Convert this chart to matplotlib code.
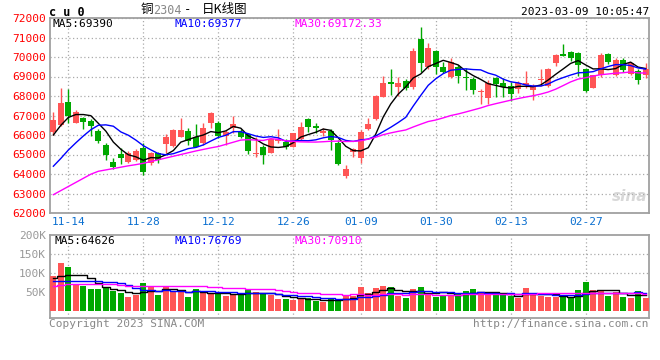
import matplotlib
matplotlib.use("Agg")
import matplotlib.pyplot as plt
import numpy as np
import pandas as pd

# trading days shown on the chart (2022-11-10 .. 2023-03-09)
dates = ["11-10", "11-11", "11-14", "11-15", "11-16", "11-17", "11-18", "11-21", "11-22", "11-23",
         "11-24", "11-25", "11-28", "11-29", "11-30", "12-01", "12-02", "12-05", "12-06", "12-07",
         "12-08", "12-09", "12-12", "12-13", "12-14", "12-15", "12-16", "12-19", "12-20", "12-21",
         "12-22", "12-23", "12-26", "12-27", "12-28", "12-29", "12-30", "01-03", "01-04", "01-05",
         "01-06", "01-09", "01-10", "01-11", "01-12", "01-13", "01-16", "01-17", "01-18", "01-19",
         "01-20", "01-30", "01-31", "02-01", "02-02", "02-03", "02-06", "02-07", "02-08", "02-09",
         "02-10", "02-13", "02-14", "02-15", "02-16", "02-17", "02-20", "02-21", "02-22", "02-23",
         "02-24", "02-27", "02-28", "03-01", "03-02", "03-03", "03-06", "03-07", "03-08", "03-09"]
label_dates = ["11-14", "11-28", "12-12", "12-26", "01-09", "01-30", "02-13", "02-27"]

opens = [66169, 66513, 67692, 66631, 66887, 66718, 66221, 65503, 64631, 65026,
         64631, 64718, 65318, 64580, 65062, 65538, 65451, 65913, 66205, 65882,
         65574, 66631, 66600, 65964, 66344, 66169, 66051, 65009, 65369, 65092,
         65700, 65656, 65400, 65779, 66821, 66477, 66087, 66205, 65605, 63897,
         65113, 64805, 66308, 66821, 67964, 68718, 68477, 68769, 68446, 70923,
         69472, 70308, 69508, 69000, 69508, 68974, 68872, 68190, 67913, 68938,
         68682, 68513, 68344, 68564, 68308, 68821, 68513, 69713, 70154, 70241,
         70190, 69369, 68426, 69062, 70154, 69077, 69846, 69128, 69297, 69077]
closes = [66769, 67656, 66974, 67179, 66667, 66477, 65692, 64974, 64374, 64821,
          65062, 65179, 64087, 65062, 64718, 65882, 66256, 66256, 65708, 65400,
          66374, 67144, 65964, 66169, 66549, 65913, 65179, 65092, 64974, 65779,
          65780, 65400, 66087, 66426, 66426, 66374, 66221, 65744, 64513, 64256,
          65267, 66138, 66564, 68000, 68651, 68600, 68667, 68395, 70308, 69677,
          70477, 69472, 69215, 69759, 69041, 68908, 68308, 68241, 68651, 68615,
          68446, 68103, 68651, 68682, 68513, 68872, 69385, 70103, 70067, 69933,
          69590, 68272, 69077, 70103, 69728, 69846, 69333, 69677, 68821, 69369]
highs = [67179, 68426, 68359, 67282, 66939, 66800, 66292, 65605, 64805, 65349,
         65179, 65282, 65605, 65144, 65144, 66051, 66292, 66887, 66344, 66564,
         66600, 67195, 66733, 66256, 66974, 66292, 66118, 65913, 65487, 65831,
         66292, 65779, 66118, 66651, 66856, 66600, 66344, 66292, 65744, 64462,
         65349, 66256, 66856, 68051, 69026, 69385, 68959, 68872, 70477, 71554,
         70703, 70359, 69759, 69964, 69590, 69420, 68990, 68359, 68805, 68990,
         68908, 68733, 68769, 69297, 68615, 69369, 69420, 70154, 70667, 70323,
         70272, 69420, 69077, 70190, 70221, 69933, 69933, 69708, 69369, 69708]
lows = [66000, 66462, 66631, 66600, 66308, 65964, 65605, 64718, 64256, 64513,
        64549, 64667, 63949, 64462, 64549, 65062, 65410, 65913, 65487, 65369,
        65487, 66344, 65831, 65487, 66118, 65831, 65026, 64887, 64513, 65062,
        65605, 65267, 65369, 65744, 66169, 66087, 65949, 65231, 64462, 63779,
        64887, 64580, 66256, 66769, 67933, 68051, 68015, 68308, 68359, 69246,
        69385, 69113, 69164, 68918, 68651, 68308, 68087, 67574, 67574, 67964,
        67964, 67744, 68138, 68395, 67795, 68513, 68477, 69564, 70067, 69810,
        69041, 68221, 68400, 68974, 69626, 69041, 69246, 69077, 68615, 68908]

# volume in thousands of lots
volumes = [93.5, 125.8, 116, 70, 65.5, 58.5, 58.5, 60, 53, 47,
           36.7, 43.7, 73.4, 64.6, 42, 64.6, 49.8, 56.8, 36.7, 57.7,
           47, 45.4, 49.8, 41, 45.4, 42.8, 55, 49.8, 47, 42,
           31.4, 31.4, 28.8, 33.2, 35, 26.2, 24.5, 34, 33.2, 41,
           41, 63, 47, 60, 65.5, 63, 41, 34, 57.7, 63,
           47, 36.7, 43.7, 42, 47, 52.4, 57.7, 49.8, 44.6, 42.8,
           42.8, 41, 34, 60, 47, 41, 36.7, 36.7, 38.5, 36.7,
           55, 76, 55, 55, 40, 49.8, 36.7, 34, 52.4, 34]

# moving-average values before enough days are on screen
ma5_head = [66000, 66500, 66900, 67050]
ma10_head = [64400, 64800, 65230, 65600, 65950, 66270, 66500, 66520, 66450]
ma30_head = [62940, 63150, 63360, 63570, 63780, 63990, 64140, 64210, 64280, 64350,
             64420, 64480, 64550, 64640, 64730, 64820, 64910, 65000, 65090, 65180,
             65260, 65340, 65410, 65520, 65630, 65740, 65760, 65740, 65720]
vma5_head = [88, 92, 94, 94]
vma10_head = [78, 80, 80, 80, 80, 79, 78, 77, 76]
vma30_head = [67, 68, 70, 70, 70, 70, 70, 70, 70, 69,
              66, 66, 66, 66, 66, 66, 66, 66, 66, 65,
              65, 64, 63, 62, 61, 60, 59, 58, 58]


def moving(values, n, head):
    s = pd.Series(values, dtype=float).rolling(n).mean().to_numpy()
    s[:len(head)] = head
    return s


W, H = 660, 360
fig = plt.figure(figsize=(6.6, 3.6), dpi=100)
mono = "DejaVu Sans Mono"
RED = "#ff5555"
GREEN = "#00a800"
GRID = "#aaaaaa"
FRAME = "#a0a0a0"


def box(l, t, r, b):
    return [l / W, 1 - b / H, (r - l) / W, (b - t) / H]


x = np.arange(len(dates))
o = np.array(opens, float)
c = np.array(closes, float)
up = c >= o
colors = [RED if u else GREEN for u in up]
label_idx = [dates.index(d) for d in label_dates]

# ---- price panel
ax = fig.add_axes(box(50, 18, 649, 213))
ax.vlines(x, lows, highs, colors=colors, lw=1, zorder=2)
body_bottom = np.minimum(o, c)
body_h = np.maximum(np.abs(c - o), 45)
ax.bar(x, body_h, bottom=body_bottom, width=0.82, color=colors, lw=0, zorder=3)
ax.plot(x, moving(closes, 5, ma5_head), color="black", lw=1, zorder=4)
ax.plot(x, moving(closes, 10, ma10_head), color="#0000ff", lw=1, zorder=4)
ax.plot(x, moving(closes, 30, ma30_head), color="#ff00ff", lw=1, zorder=4)
ax.set_xlim(-0.45, 79.45)
ax.set_ylim(62000, 72000)
ax.set_yticks(range(62000, 72001, 1000))
ax.set_yticklabels([str(v) for v in range(62000, 72001, 1000)],
                   color="#ff0000", fontfamily=mono, fontsize=8)
ax.set_xticks(label_idx)
ax.set_xticklabels(label_dates, color="#0a6fd0", fontfamily=mono, fontsize=8)
ax.tick_params(length=0, pad=3)
ax.grid(True, color=GRID, ls=(0, (1, 2)), lw=0.9)
for sp in ax.spines.values():
    sp.set_color(FRAME)
    sp.set_linewidth(1.3)
ax.text(0.005, 0.995, "MA5:69390", transform=ax.transAxes, ha="left", va="top",
        fontfamily=mono, fontsize=8, color="black")
ax.text(0.208, 0.995, "MA10:69377", transform=ax.transAxes, ha="left", va="top",
        fontfamily=mono, fontsize=8, color="#0000ff")
ax.text(0.408, 0.995, "MA30:69172.33", transform=ax.transAxes, ha="left", va="top",
        fontfamily=mono, fontsize=8, color="#ff00ff")
ax.text(0.998, 0.085, "sina", transform=ax.transAxes, ha="right", va="center",
        fontsize=11, fontweight="bold", fontstyle="italic", color="#d8d8d8", zorder=1)

# ---- volume panel
vx = fig.add_axes(box(50, 235, 649, 318))
vx.bar(x, volumes, width=0.82, color=colors, lw=0, zorder=3)
vx.plot(x, moving(volumes, 5, vma5_head), color="black", lw=1, drawstyle="steps-mid", zorder=4)
vx.plot(x, moving(volumes, 10, vma10_head), color="#0000ff", lw=1, drawstyle="steps-mid", zorder=4)
vx.plot(x, moving(volumes, 30, vma30_head), color="#ff00ff", lw=1, drawstyle="steps-mid", zorder=4)
vx.set_xlim(-0.45, 79.45)
vx.set_ylim(-18, 200)
vx.set_yticks([50, 100, 150, 200])
vx.set_yticklabels(["50K", "100K", "150K", "200K"], color="#999999",
                   fontfamily=mono, fontsize=8)
vx.set_xticks(label_idx)
vx.set_xticklabels([])
vx.tick_params(length=0, pad=3)
vx.grid(False)
for v in (100, 150):
    vx.axhline(v, color=GRID, ls=(0, (1, 2)), lw=0.9, zorder=1)
for i in label_idx:
    vx.axvline(i, color=GRID, ls=(0, (1, 2)), lw=0.9, zorder=1)
for sp in vx.spines.values():
    sp.set_color(FRAME)
    sp.set_linewidth(1.3)
vx.text(0.008, 0.985, "MA5:64626", transform=vx.transAxes, ha="left", va="top",
        fontfamily=mono, fontsize=8, color="black")
vx.text(0.208, 0.985, "MA10:76769", transform=vx.transAxes, ha="left", va="top",
        fontfamily=mono, fontsize=8, color="#0000ff")
vx.text(0.408, 0.985, "MA30:70910", transform=vx.transAxes, ha="left", va="top",
        fontfamily=mono, fontsize=8, color="#ff00ff")

# ---- header / footer texts
fig.text(49 / W, 1 - 12 / H, "c u 0", ha="left", va="center", fontfamily=mono,
         fontsize=8.5, fontweight="bold", color="black")
cjk = ["Noto Sans CJK SC", "DejaVu Sans"]
fig.text(141 / W, 1 - 10 / H, "铜", ha="left", va="center", family=cjk, fontsize=9)
fig.text(153 / W, 1 - 10 / H, "2304", ha="left", va="center", fontfamily=mono,
         fontsize=8.5, color="#888888")
fig.text(184 / W, 1 - 10 / H, "-", ha="left", va="center", fontfamily=mono,
         fontsize=9, color="black")
fig.text(202 / W, 1 - 10 / H, "日K线图", ha="left", va="center", family=cjk,
         fontsize=9, color="black")
fig.text(649 / W, 1 - 12 / H, "2023-03-09 10:05:47", ha="right", va="center",
         fontfamily=mono, fontsize=8, color="black")
fig.text(49 / W, 1 - 324 / H, "Copyright 2023 SINA.COM", ha="left", va="center",
         fontfamily=mono, fontsize=8, color="#888888")
fig.text(649 / W, 1 - 324 / H, "http://finance.sina.com.cn", ha="right", va="center",
         fontfamily=mono, fontsize=8, color="#888888")

fig.savefig("out.png", dpi=100)
